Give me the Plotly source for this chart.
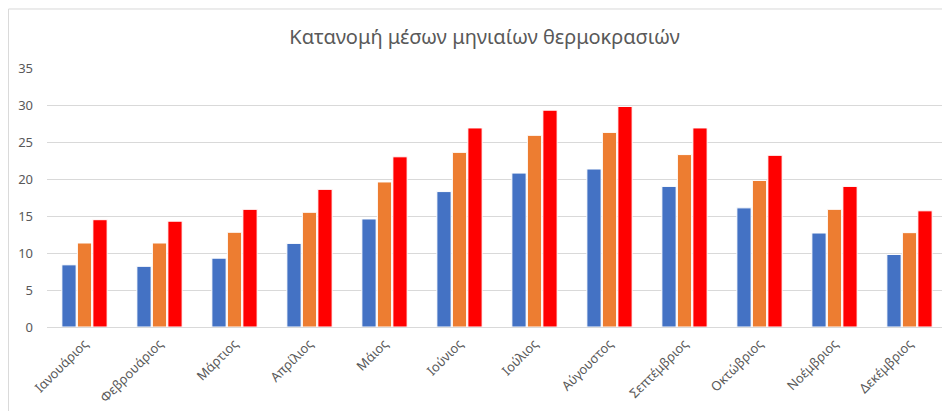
import plotly.graph_objects as go

months = ["Ιανουάριος", "Φεβρουάριος", "Μάρτιος", "Απρίλιος", "Μάιος", "Ιούνιος",
          "Ιούλιος", "Αύγουστος", "Σεπτέμβριος", "Οκτώβριος", "Νοέμβριος", "Δεκέμβριος"]
series_min = [8.4, 8.2, 9.3, 11.3, 14.6, 18.3, 20.8, 21.35, 19.0, 16.1, 12.7, 9.8]
series_mean = [11.35, 11.35, 12.8, 15.5, 19.6, 23.6, 25.9, 26.3, 23.3, 19.8, 15.9, 12.75]
series_max = [14.5, 14.3, 15.9, 18.6, 23.0, 26.9, 29.3, 29.8, 26.9, 23.2, 19.0, 15.7]
y_ticks = [0, 5, 10, 15, 20, 25, 30, 35]

colors = ["#4472C4", "#ED7D31", "#FF0000"]
names = ["Ελάχιστη", "Μέση", "Μέγιστη"]

fig = go.Figure()
for vals, c, n in zip([series_min, series_mean, series_max], colors, names):
    fig.add_trace(go.Bar(x=months, y=vals, name=n, marker=dict(color=c, line=dict(color="white", width=1))))

font = "Noto Sans, Open Sans, sans-serif"
fig.update_layout(
    width=942, height=403,
    margin=dict(l=39, r=3, t=60, b=84, autoexpand=False),
    paper_bgcolor="white", plot_bgcolor="white",
    showlegend=False,
    barmode="group", bargap=0.38, bargroupgap=0.08,
    title=dict(text="Κατανομή μέσων μηνιαίων θερμοκρασιών", x=0.506, xanchor="center",
               y=1 - 29 / 403, yanchor="middle",
               font=dict(family=font, size=20, color="#595959")),
    font=dict(family=font, color="#595959"),
)
fig.update_yaxes(range=[0, 35], tickvals=y_ticks, showgrid=True, gridcolor="#D9D9D9", gridwidth=1,
                 zeroline=False, showline=False, tickfont=dict(size=13, color="#595959"), ticks="",
                 ticklabelstandoff=13, automargin=False)
fig.update_xaxes(tickangle=-45, showline=True, linecolor="#D9D9D9", linewidth=1,
                 tickfont=dict(size=13, color="#595959"), ticks="", automargin=False,
                 ticklabelstandoff=3)
# outer chart border (top and left visible)
fig.add_shape(type="line", xref="paper", yref="paper", x0=-0.0428, x1=1.01, y0=1.2278, y1=1.2278,
              line=dict(color="#D9D9D9", width=1))
fig.add_shape(type="line", xref="paper", yref="paper", x0=-0.0428, x1=-0.0428, y0=1.2278, y1=-0.33,
              line=dict(color="#D9D9D9", width=1))
fig.write_html("out.html")
